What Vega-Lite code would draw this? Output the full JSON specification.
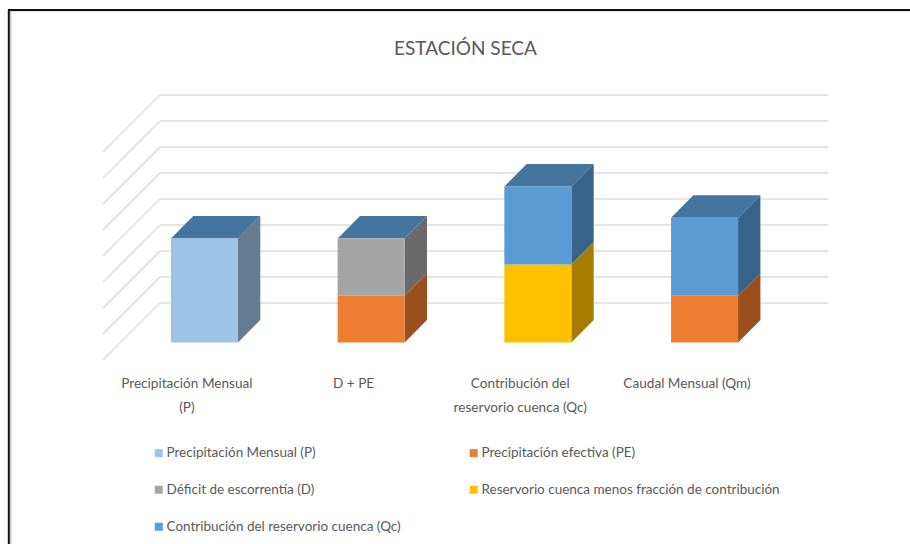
{
"$schema":"https://vega.github.io/schema/vega-lite/v6.json",
"width":725,"height":265,
"autosize":"none",
"padding":{"left":103,"top":95,"right":82,"bottom":184},
"background":"white",
"config":{"view":{"stroke":null},"font":"Lato"},
"title":{"text":"ESTACIÓN SECA","anchor":"middle","frame":"group","fontSize":19,"fontWeight":"normal","color":"#595959","font":"Lato","offset":0,"dy":50},
"datasets":{
"barras":[
{"categoria":"Precipitación Mensual (P)","serie":"Precipitación Mensual (P)","valor":4.0},
{"categoria":"D + PE","serie":"Precipitación efectiva (PE)","valor":1.8},
{"categoria":"D + PE","serie":"Déficit de escorrentía (D)","valor":2.2},
{"categoria":"Contribución del reservorio cuenca (Qc)","serie":"Reservorio cuenca menos fracción de contribución","valor":3.0},
{"categoria":"Contribución del reservorio cuenca (Qc)","serie":"Contribución del reservorio cuenca (Qc)","valor":3.0},
{"categoria":"Caudal Mensual (Qm)","serie":"Precipitación efectiva (PE)","valor":1.8},
{"categoria":"Caudal Mensual (Qm)","serie":"Contribución del reservorio cuenca (Qc)","valor":3.0}
],
"rejilla":[{"nivel":0},{"nivel":1},{"nivel":2},{"nivel":3},{"nivel":4},{"nivel":5},{"nivel":6},{"nivel":7},{"nivel":8}]
},
"layer":[
{"data":{"name":"rejilla"},
 "transform":[{"calculate":"datum.nivel+1.519","as":"atras"},{"calculate":"datum.nivel-0.673","as":"frente"}],
 "mark":{"type":"rule","color":"#dcdcdc","strokeWidth":1.5},
 "encoding":{"x":{"datum":-0.5,"type":"quantitative","scale":{"domain":[-0.5,3.849],"nice":false,"zero":false},
   "axis":{"title":null,"values":[0,1,2,3],"domain":false,"ticks":false,"grid":false,"labelFontSize":13.6,"labelColor":"#595959","labelPadding":16,"labelLineHeight":24,"labelOverlap":false,"labelBound":false,"labelFlush":false,
   "labelExpr":"datum.value==0?['Precipitación Mensual','(P)']:datum.value==1?'D + PE':datum.value==2?['Contribución del','reservorio cuenca (Qc)']:'Caudal Mensual (Qm)'"}},
  "x2":{"datum":-0.158},
  "y":{"field":"frente","type":"quantitative","scale":{"domain":[-0.673,9.519],"nice":false,"zero":false},"axis":null},
  "y2":{"field":"atras"}}},
{"data":{"name":"rejilla"},
 "transform":[{"calculate":"datum.nivel+1.519","as":"atras"}],
 "mark":{"type":"rule","color":"#dcdcdc","strokeWidth":1.5},
 "encoding":{"x":{"datum":-0.158,"type":"quantitative"},"x2":{"datum":3.849},"y":{"field":"atras","type":"quantitative"}}},
{"data":{"name":"barras"},
 "transform":[
  {"calculate":"indexof(['Precipitación Mensual (P)','Precipitación efectiva (PE)','Déficit de escorrentía (D)','Reservorio cuenca menos fracción de contribución','Contribución del reservorio cuenca (Qc)'],datum.serie)","as":"orden"},
  {"calculate":"indexof(['Precipitación Mensual (P)','D + PE','Contribución del reservorio cuenca (Qc)','Caudal Mensual (Qm)'],datum.categoria)","as":"idx"},
  {"stack":"valor","groupby":["categoria"],"sort":[{"field":"orden","order":"ascending"}],"as":["v0","v1"]},
  {"calculate":"[0,1]","as":"p"},{"flatten":["p"]},
  {"calculate":"datum.idx+0.3095+datum.p*0.134","as":"xs"},
  {"calculate":"datum.v0+datum.p*0.865","as":"ys0"},
  {"calculate":"datum.v1+datum.p*0.865","as":"ys1"}
 ],
 "mark":{"type":"area","interpolate":"linear","orient":"vertical"},
 "encoding":{"x":{"field":"xs","type":"quantitative"},"y":{"field":"ys0","type":"quantitative"},"y2":{"field":"ys1"},
  "detail":{"field":"categoria"},
  "fill":{"field":"serie","type":"nominal","legend":null,"scale":{"domain":["Precipitación Mensual (P)","Precipitación efectiva (PE)","Déficit de escorrentía (D)","Reservorio cuenca menos fracción de contribución","Contribución del reservorio cuenca (Qc)"],"range":["#657b92","#9a4f1d","#6a6a6a","#a67c00","#39648a"]}}}},
{"data":{"name":"barras"},
 "transform":[
  {"calculate":"indexof(['Precipitación Mensual (P)','D + PE','Contribución del reservorio cuenca (Qc)','Caudal Mensual (Qm)'],datum.categoria)","as":"idx"},
  {"aggregate":[{"op":"sum","field":"valor","as":"total"}],"groupby":["idx"]},
  {"calculate":"[0,1]","as":"p"},{"flatten":["p"]},
  {"calculate":"datum.idx-0.0925+datum.p*0.134","as":"xa"},
  {"calculate":"datum.idx+0.3095+datum.p*0.134","as":"xb"},
  {"calculate":"datum.total+datum.p*0.865","as":"yt"}
 ],
 "mark":{"type":"area","orient":"horizontal","interpolate":"linear","color":"#44759f"},
 "encoding":{"x":{"field":"xa","type":"quantitative"},"x2":{"field":"xb"},"y":{"field":"yt","type":"quantitative"},"detail":{"field":"idx"}}},
{"data":{"name":"barras"},
 "transform":[
  {"calculate":"indexof(['Precipitación Mensual (P)','Precipitación efectiva (PE)','Déficit de escorrentía (D)','Reservorio cuenca menos fracción de contribución','Contribución del reservorio cuenca (Qc)'],datum.serie)","as":"orden"},
  {"calculate":"indexof(['Precipitación Mensual (P)','D + PE','Contribución del reservorio cuenca (Qc)','Caudal Mensual (Qm)'],datum.categoria)","as":"idx"},
  {"stack":"valor","groupby":["categoria"],"sort":[{"field":"orden","order":"ascending"}],"as":["v0","v1"]},
  {"calculate":"datum.idx-0.0925","as":"xa"},{"calculate":"datum.idx+0.3095","as":"xb"}
 ],
 "mark":{"type":"rect"},
 "encoding":{"x":{"field":"xa","type":"quantitative"},"x2":{"field":"xb"},"y":{"field":"v0","type":"quantitative"},"y2":{"field":"v1"},
  "color":{"field":"serie","type":"nominal",
   "scale":{"domain":["Precipitación Mensual (P)","Precipitación efectiva (PE)","Déficit de escorrentía (D)","Reservorio cuenca menos fracción de contribución","Contribución del reservorio cuenca (Qc)"],"range":["#9dc3e6","#ed7d31","#a5a5a5","#ffc000","#5b9bd5"]},
   "legend":{"title":null,"orient":"none","legendX":49,"legendY":351,"direction":"horizontal","columns":2,"symbolType":"square","symbolSize":64,"symbolStrokeWidth":0,"labelFontSize":13.5,"labelColor":"#595959","labelOffset":1,"columnPadding":66,"rowPadding":22,"labelLimit":400,"symbolOpacity":1}}}},
{"mark":{"type":"rule","color":"#c8c8c8","strokeWidth":1.5},"data":{"values":[{}]},"encoding":{"x":{"datum":-1.054,"type":"quantitative"},"y":{"datum":12.76,"type":"quantitative"},"y2":{"datum":-7.8}}},
{"mark":{"type":"rule","color":"#c8c8c8","strokeWidth":1.5},"data":{"values":[{}]},"encoding":{"x":{"datum":-1.054,"type":"quantitative"},"x2":{"datum":4.35},"y":{"datum":12.76,"type":"quantitative"}}},
{"mark":{"type":"rule","color":"#111111","strokeWidth":2},"data":{"values":[{}]},"encoding":{"x":{"datum":-1.065,"type":"quantitative"},"y":{"datum":12.79,"type":"quantitative"},"y2":{"datum":-7.8}}},
{"mark":{"type":"rule","color":"#111111","strokeWidth":2},"data":{"values":[{}]},"encoding":{"x":{"datum":-1.07,"type":"quantitative"},"x2":{"datum":4.35},"y":{"datum":12.79,"type":"quantitative"}}}
],
"resolve":{"scale":{"fill":"independent","color":"independent"}}
}
